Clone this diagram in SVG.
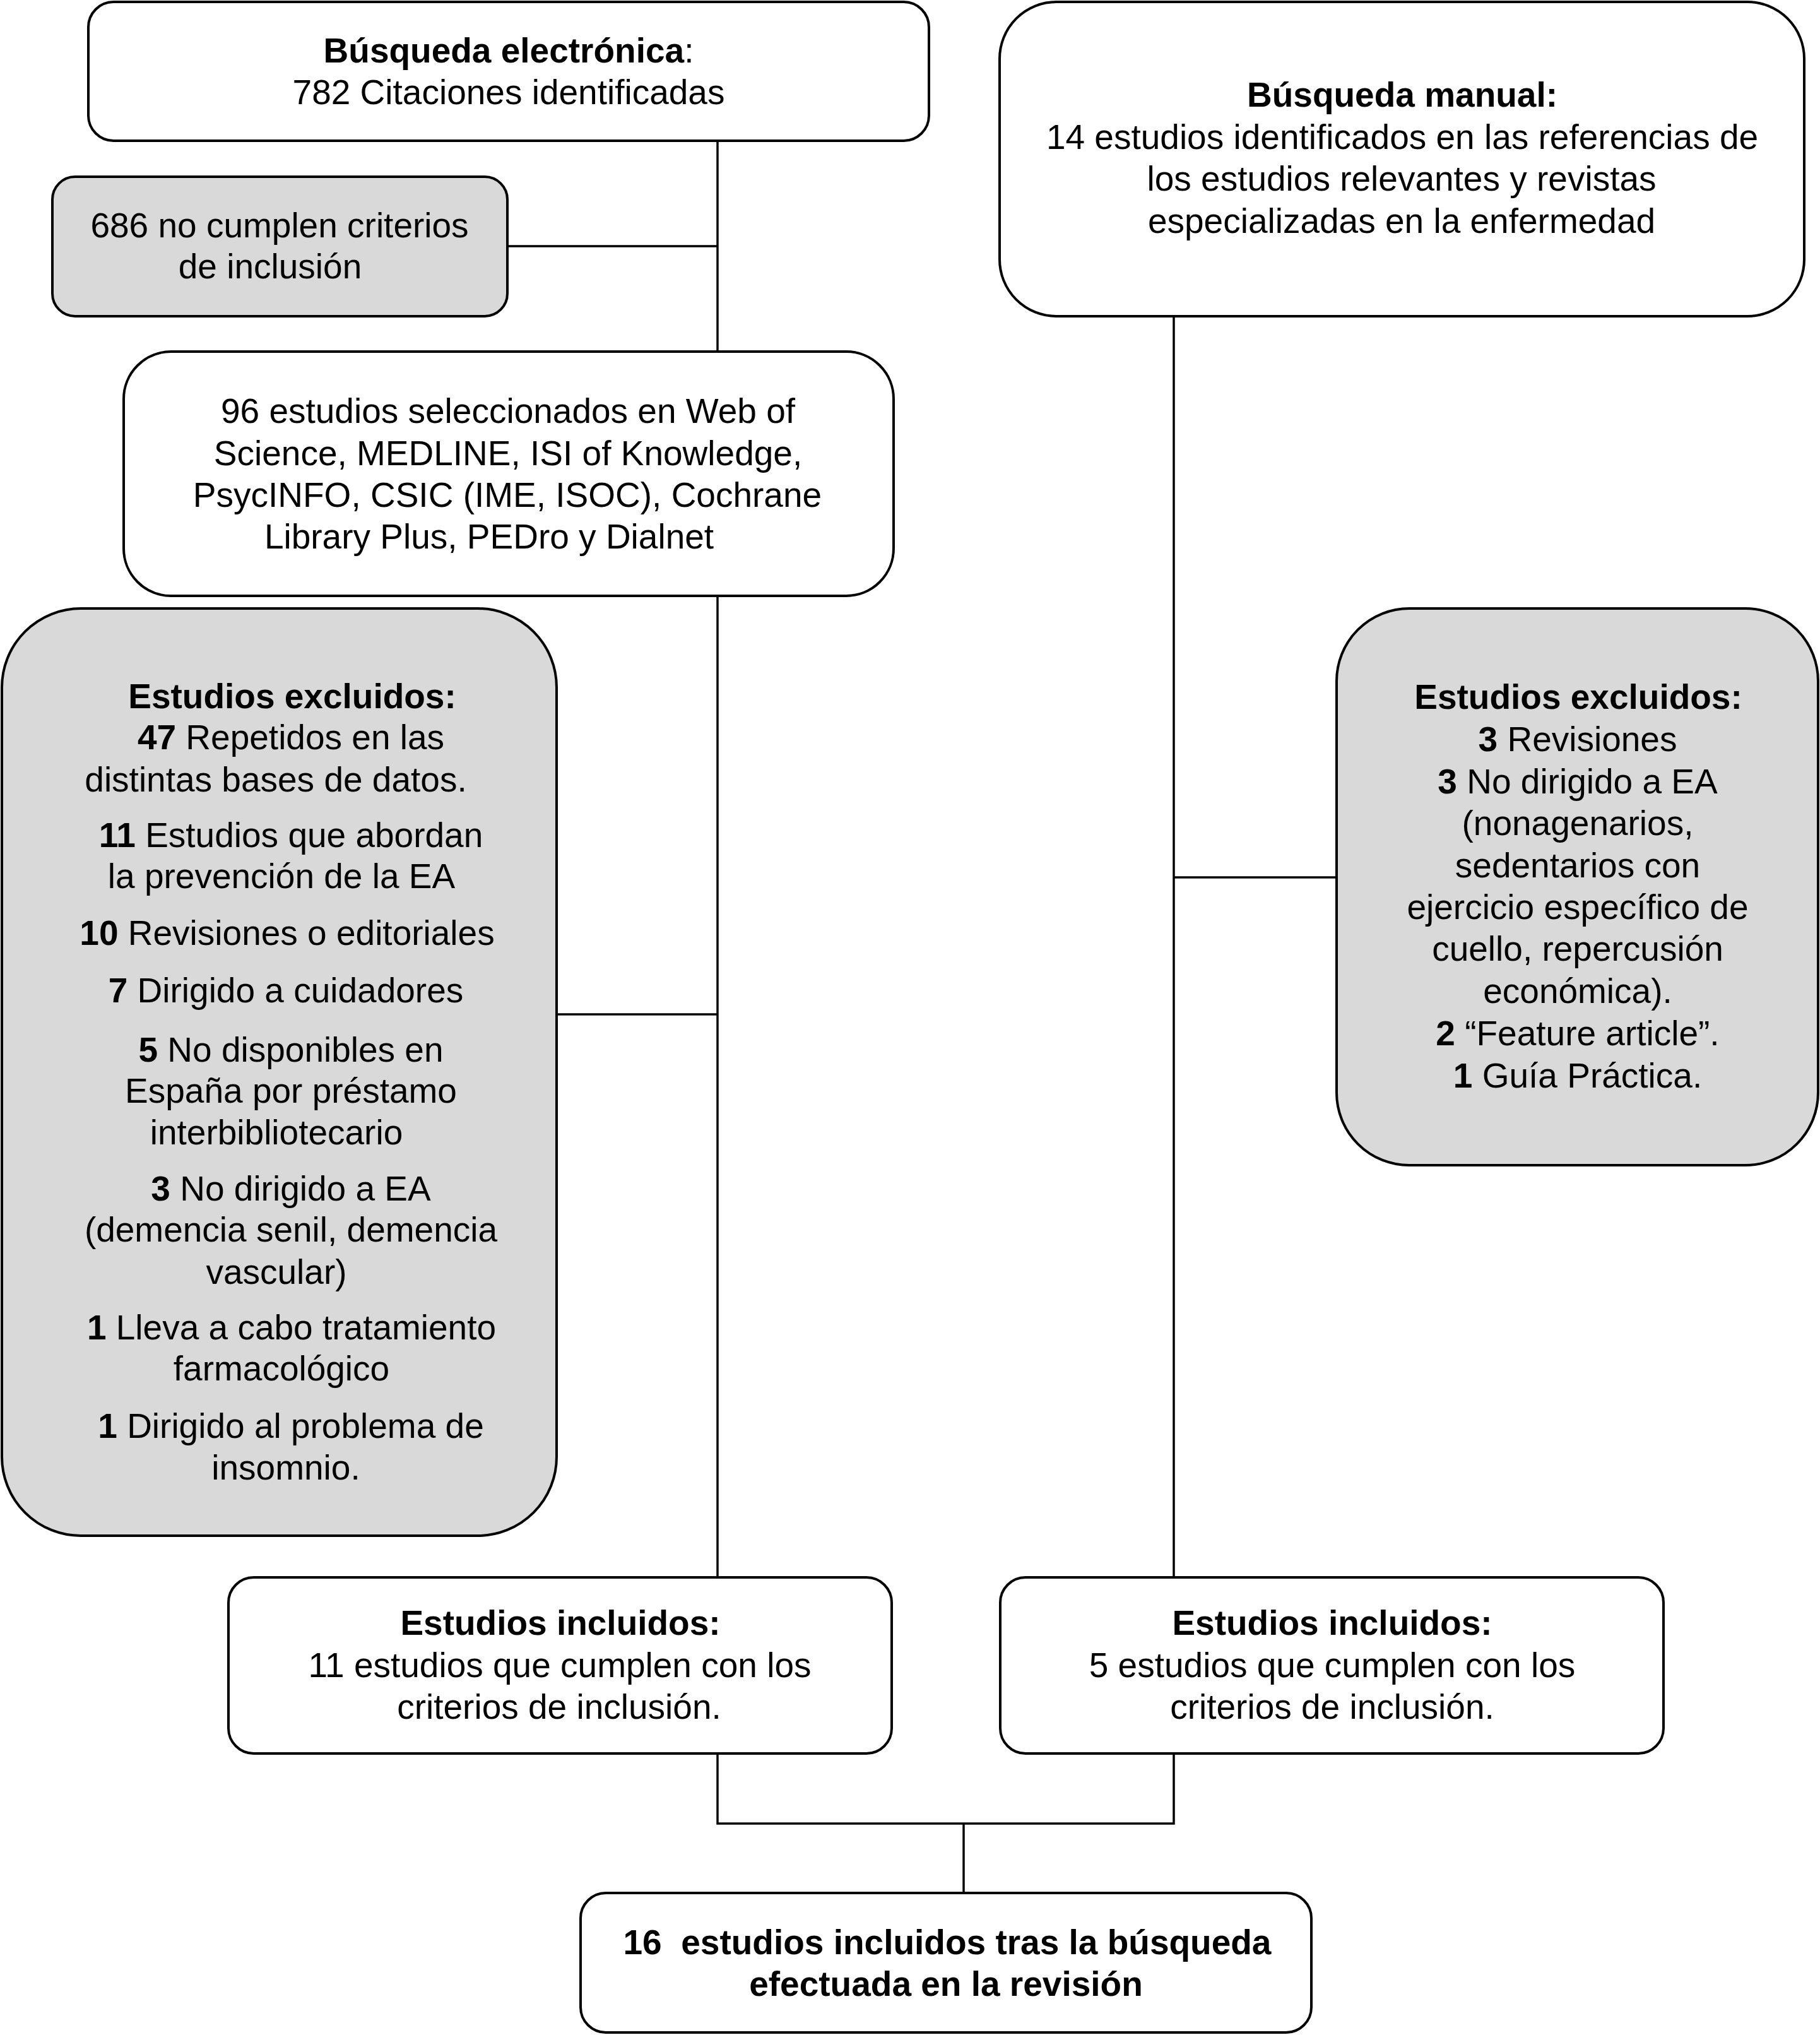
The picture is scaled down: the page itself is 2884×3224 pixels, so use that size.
<svg xmlns="http://www.w3.org/2000/svg" width="2884" height="3224" viewBox="0 0 2884 3224">
<style>
.box{fill:#ffffff;stroke:#000;stroke-width:4}
.grey{fill:#d9d9d9;stroke:#000;stroke-width:4}
.ln{stroke:#000;stroke-width:3.5;fill:none}
text{font-family:"Liberation Sans",Arial,Helvetica,sans-serif;font-size:55px;fill:#000;text-anchor:middle}
.b{font-weight:bold}
</style>
<rect width="2884" height="3224" fill="#fff"/>
<g id="connectors">
<line class="ln" x1="1137" y1="223" x2="1137" y2="557"/>
<line class="ln" x1="804" y1="390" x2="1137" y2="390"/>
<line class="ln" x1="1137" y1="944" x2="1137" y2="2499"/>
<line class="ln" x1="882" y1="1607" x2="1137" y2="1607"/>
<line class="ln" x1="1860" y1="501" x2="1860" y2="2499"/>
<line class="ln" x1="1860" y1="1390" x2="2118" y2="1390"/>
<polyline class="ln" points="1137,2778 1137,2889 1860,2889 1860,2778"/>
<line class="ln" x1="1527" y1="2889" x2="1527" y2="2999"/>
</g>
<g id="electronica">
<rect class="box" x="140" y="3" width="1332" height="220" rx="40"/>
<text x="806" y="99"><tspan class="b">Búsqueda electrónica</tspan>:</text>
<text x="806" y="165">782 Citaciones identificadas</text>
</g>
<g id="no-cumplen">
<rect class="grey" x="83" y="280" width="721" height="221" rx="36"/>
<text x="443" y="376">686 no cumplen criterios</text>
<text x="428" y="441">de inclusión</text>
</g>
<g id="seleccionados">
<rect class="box" x="196" y="557" width="1220" height="387" rx="75"/>
<text x="805" y="670">96 estudios seleccionados en Web of</text>
<text x="805" y="737">Science, MEDLINE, ISI of Knowledge,</text>
<text x="804" y="803">PsycINFO, CSIC (IME, ISOC), Cochrane</text>
<text x="775" y="869">Library Plus, PEDro y Dialnet</text>
</g>
<g id="excluidos-izq">
<rect class="grey" x="3" y="964" width="879" height="1469" rx="125"/>
<text class="b" x="463" y="1122">Estudios excluidos:</text>
<text x="461" y="1187"><tspan class="b">47</tspan> Repetidos en las</text>
<text x="437" y="1254">distintas bases de datos.</text>
<text x="461" y="1342"><tspan class="b">11</tspan> Estudios que abordan</text>
<text x="446" y="1407">la prevención de la EA</text>
<text x="455" y="1497"><tspan class="b">10</tspan> Revisiones o editoriales</text>
<text x="453" y="1588"><tspan class="b">7</tspan> Dirigido a cuidadores</text>
<text x="461" y="1682"><tspan class="b">5</tspan> No disponibles en</text>
<text x="461" y="1747">España por préstamo</text>
<text x="438" y="1813">interbibliotecario</text>
<text x="461" y="1902"><tspan class="b">3</tspan> No dirigido a EA</text>
<text x="461" y="1967">(demencia senil, demencia</text>
<text x="438" y="2034">vascular)</text>
<text x="462" y="2122"><tspan class="b">1</tspan> Lleva a cabo tratamiento</text>
<text x="446" y="2187">farmacológico</text>
<text x="461" y="2278"><tspan class="b">1</tspan> Dirigido al problema de</text>
<text x="453" y="2344">insomnio.</text>
</g>
<g id="manual">
<rect class="box" x="1584" y="3" width="1275" height="498" rx="90"/>
<text class="b" x="2222" y="169">Búsqueda manual:</text>
<text x="2222" y="236">14 estudios identificados en las referencias de</text>
<text x="2221" y="302">los estudios relevantes y revistas</text>
<text x="2221" y="369">especializadas en la enfermedad</text>
</g>
<g id="excluidos-der">
<rect class="grey" x="2118" y="964" width="763" height="882" rx="115"/>
<text class="b" x="2501" y="1123">Estudios excluidos:</text>
<text x="2500" y="1190"><tspan class="b">3</tspan> Revisiones</text>
<text x="2500" y="1257"><tspan class="b">3</tspan> No dirigido a EA</text>
<text x="2500" y="1323">(nonagenarios,</text>
<text x="2500" y="1390">sedentarios con</text>
<text x="2500" y="1456">ejercicio específico de</text>
<text x="2500" y="1522">cuello, repercusión</text>
<text x="2500" y="1589">económica).</text>
<text x="2500" y="1656"><tspan class="b">2</tspan> “Feature article”.</text>
<text x="2500" y="1723"><tspan class="b">1</tspan> Guía Práctica.</text>
</g>
<g id="incluidos-izq">
<rect class="box" x="362" y="2499" width="1051" height="279" rx="40"/>
<text class="b" x="888" y="2590">Estudios incluidos:</text>
<text x="887" y="2657">11 estudios que cumplen con los</text>
<text x="886" y="2723">criterios de inclusión.</text>
</g>
<g id="incluidos-der">
<rect class="box" x="1585" y="2499" width="1051" height="279" rx="40"/>
<text class="b" x="2111" y="2590">Estudios incluidos:</text>
<text x="2111" y="2657">5 estudios que cumplen con los</text>
<text x="2111" y="2723">criterios de inclusión.</text>
</g>
<g id="final">
<rect class="box" x="920" y="2999" width="1158" height="221" rx="40"/>
<text class="b" x="1501" y="3096" style="white-space:pre">16  estudios incluidos tras la búsqueda</text>
<text class="b" x="1499" y="3162">efectuada en la revisión</text>
</g>
</svg>
